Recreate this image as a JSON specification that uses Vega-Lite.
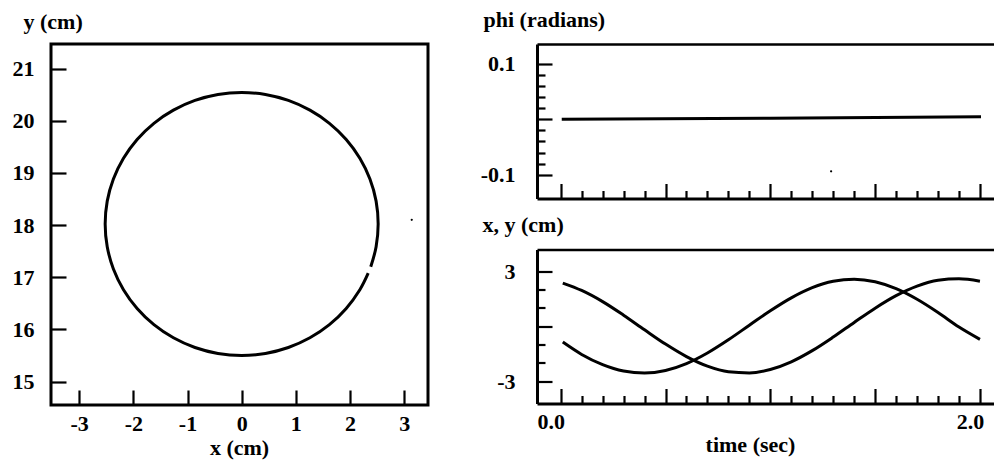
{
  "$schema": "https://vega.github.io/schema/vega-lite/v6.json",
  "autosize": {"type": "pad"},
  "padding": {"left": 10, "top": 8, "right": 0, "bottom": 0},
  "background": "white",
  "config": {
    "font": "Liberation Serif",
    "view": {"stroke": null},
    "axis": {
      "labelFont": "Liberation Serif",
      "labelFontWeight": "bold",
      "labelFontSize": 22,
      "labelColor": "black",
      "titleFont": "Liberation Serif",
      "titleFontWeight": "bold",
      "titleFontSize": 22,
      "titleColor": "black",
      "tickColor": "black",
      "tickWidth": 2.2,
      "domainColor": "black",
      "domainWidth": 3,
      "grid": false,
      "labelOverlap": false,
      "labelFlush": false,
      "labelBound": false
    }
  },
  "datasets": {
    "circle": [
      {"i": 0, "x": 2.383, "y": 17.2},
      {"i": 1, "x": 2.482, "y": 17.583},
      {"i": 2, "x": 2.52, "y": 18.02},
      {"i": 3, "x": 2.482, "y": 18.458},
      {"i": 4, "x": 2.368, "y": 18.882},
      {"i": 5, "x": 2.182, "y": 19.28},
      {"i": 6, "x": 1.93, "y": 19.64},
      {"i": 7, "x": 1.62, "y": 19.95},
      {"i": 8, "x": 1.26, "y": 20.202},
      {"i": 9, "x": 0.862, "y": 20.388},
      {"i": 10, "x": 0.438, "y": 20.502},
      {"i": 11, "x": 0.0, "y": 20.54},
      {"i": 12, "x": -0.438, "y": 20.502},
      {"i": 13, "x": -0.862, "y": 20.388},
      {"i": 14, "x": -1.26, "y": 20.202},
      {"i": 15, "x": -1.62, "y": 19.95},
      {"i": 16, "x": -1.93, "y": 19.64},
      {"i": 17, "x": -2.182, "y": 19.28},
      {"i": 18, "x": -2.368, "y": 18.882},
      {"i": 19, "x": -2.482, "y": 18.458},
      {"i": 20, "x": -2.52, "y": 18.02},
      {"i": 21, "x": -2.482, "y": 17.582},
      {"i": 22, "x": -2.368, "y": 17.158},
      {"i": 23, "x": -2.182, "y": 16.76},
      {"i": 24, "x": -1.93, "y": 16.4},
      {"i": 25, "x": -1.62, "y": 16.09},
      {"i": 26, "x": -1.26, "y": 15.838},
      {"i": 27, "x": -0.862, "y": 15.652},
      {"i": 28, "x": -0.438, "y": 15.538},
      {"i": 29, "x": 0.0, "y": 15.5},
      {"i": 30, "x": 0.438, "y": 15.538},
      {"i": 31, "x": 0.862, "y": 15.652},
      {"i": 32, "x": 1.26, "y": 15.838},
      {"i": 33, "x": 1.62, "y": 16.09},
      {"i": 34, "x": 1.93, "y": 16.4},
      {"i": 35, "x": 2.182, "y": 16.76},
      {"i": 36, "x": 2.336, "y": 17.076}
    ],
    "speckXY": [{"x": 3.14, "y": 18.1}],
    "phi": [
      {"t": 0.005, "phi": 0.0},
      {"t": 1.0, "phi": 0.002},
      {"t": 2.005, "phi": 0.0045}
    ],
    "speckPhi": [{"t": 1.29, "phi": -0.094}],
    "xSeries": [
      {"t": 0.01, "cm": -0.87}, {"t": 0.1, "cm": -1.544}, {"t": 0.2, "cm": -2.1},
      {"t": 0.3, "cm": -2.449}, {"t": 0.4, "cm": -2.56}, {"t": 0.5, "cm": -2.419},
      {"t": 0.6, "cm": -2.042}, {"t": 0.7, "cm": -1.465}, {"t": 0.8, "cm": -0.744},
      {"t": 0.9, "cm": 0.049}, {"t": 1.0, "cm": 0.838}, {"t": 1.1, "cm": 1.544},
      {"t": 1.2, "cm": 2.1}, {"t": 1.3, "cm": 2.449}, {"t": 1.4, "cm": 2.56},
      {"t": 1.5, "cm": 2.419}, {"t": 1.6, "cm": 2.042}, {"t": 1.7, "cm": 1.465},
      {"t": 1.8, "cm": 0.744}, {"t": 1.9, "cm": -0.049}, {"t": 2.0, "cm": -0.72}
    ],
    "ySeries": [
      {"t": 0.01, "cm": 2.35}, {"t": 0.1, "cm": 1.947}, {"t": 0.2, "cm": 1.338},
      {"t": 0.3, "cm": 0.598}, {"t": 0.4, "cm": -0.201}, {"t": 0.5, "cm": -0.98},
      {"t": 0.6, "cm": -1.662}, {"t": 0.7, "cm": -2.183}, {"t": 0.8, "cm": -2.489},
      {"t": 0.9, "cm": -2.552}, {"t": 1.0, "cm": -2.365}, {"t": 1.1, "cm": -1.947},
      {"t": 1.2, "cm": -1.338}, {"t": 1.3, "cm": -0.598}, {"t": 1.4, "cm": 0.201},
      {"t": 1.5, "cm": 0.98}, {"t": 1.6, "cm": 1.662}, {"t": 1.7, "cm": 2.183},
      {"t": 1.8, "cm": 2.5}, {"t": 1.9, "cm": 2.58}, {"t": 2.0, "cm": 2.45}
    ]
  },
  "bounds": "flush",
  "spacing": 109,
  "hconcat": [
    {
      "width": 377,
      "height": 361,
      "view": {"stroke": "black", "strokeWidth": 3},
      "layer": [
        {
          "data": {"name": "circle"},
          "mark": {"type": "line", "interpolate": "cardinal", "color": "black", "strokeWidth": 3},
          "encoding": {
            "x": {
              "field": "x", "type": "quantitative",
              "scale": {"domain": [-3.52, 3.44], "nice": false, "zero": false},
              "axis": {
                "values": [-3, -2.75, -2.5, -2.25, -2, -1.75, -1.5, -1.25, -1, -0.75, -0.5, -0.25, 0, 0.25, 0.5, 0.75, 1, 1.25, 1.5, 1.75, 2, 2.25, 2.5, 2.75, 3],
                "tickSize": {"expr": "(datum.value % 1 === 0 ? -15 : -8)"},
                "labelExpr": "datum.value % 1 === 0 ? '' + datum.value : ''",
                "labelPadding": 23,
                "domain": false,
                "title": "x (cm)",
                "titleAlign": "center",
                "titleBaseline": "alphabetic",
                "titleX": 188,
                "titleY": 49
              }
            },
            "y": {
              "field": "y", "type": "quantitative",
              "scale": {"domain": [14.55, 21.47], "nice": false, "zero": false},
              "axis": {
                "values": [15, 15.25, 15.5, 15.75, 16, 16.25, 16.5, 16.75, 17, 17.25, 17.5, 17.75, 18, 18.25, 18.5, 18.75, 19, 19.25, 19.5, 19.75, 20, 20.25, 20.5, 20.75, 21],
                "tickSize": {"expr": "(datum.value % 1 === 0 ? -15 : -8)"},
                "labelExpr": "datum.value % 1 === 0 ? '' + datum.value : ''",
                "labelPadding": 32,
                "domain": false,
                "title": "y (cm)",
                "titleAngle": 0,
                "titleAlign": "left",
                "titleBaseline": "alphabetic",
                "titleX": -28,
                "titleY": -16
              }
            },
            "order": {"field": "i", "type": "quantitative"}
          }
        },
        {
          "data": {"name": "speckXY"},
          "mark": {"type": "point", "filled": true, "color": "black", "size": 5, "opacity": 1},
          "encoding": {
            "x": {"field": "x", "type": "quantitative", "scale": {"domain": [-3.52, 3.44], "nice": false, "zero": false}},
            "y": {"field": "y", "type": "quantitative", "scale": {"domain": [14.55, 21.47], "nice": false, "zero": false}}
          }
        }
      ]
    },
    {
      "bounds": "flush",
      "spacing": 50.5,
      "vconcat": [
        {
          "width": 457,
          "height": 154.5,
          "resolve": {"axis": {"x": "independent"}},
          "layer": [
            {
              "data": {"name": "phi"},
              "mark": {"type": "line", "color": "black", "strokeWidth": 3},
              "encoding": {
                "x": {
                  "field": "t", "type": "quantitative",
                  "scale": {"domain": [-0.113, 2.067], "nice": false, "zero": false},
                  "axis": {
                    "orient": "bottom",
                    "values": [0, 0.1, 0.2, 0.3, 0.4, 0.5, 0.6, 0.7, 0.8, 0.9, 1, 1.1, 1.2, 1.3, 1.4, 1.5, 1.6, 1.7, 1.8, 1.9, 2],
                    "tickSize": {"expr": "(abs(datum.value * 2 - round(datum.value * 2)) < 0.000001 ? -15 : -8)"},
                    "labels": false,
                    "title": null
                  }
                },
                "y": {
                  "field": "phi", "type": "quantitative",
                  "scale": {"domain": [-0.143, 0.136], "nice": false, "zero": false},
                  "axis": {
                    "values": [-0.1, -0.08, -0.06, -0.04, -0.02, 0, 0.02, 0.04, 0.06, 0.08, 0.1],
                    "tickSize": {"expr": "((abs(datum.value) < 0.000001 || abs(abs(datum.value) - 0.1) < 0.000001) ? -15 : -8)"},
                    "labelExpr": "abs(abs(datum.value) - 0.1) < 0.000001 ? (datum.value < 0 ? '-0.1' : '0.1') : ''",
                    "labelPadding": 37,
                    "title": "phi (radians)",
                    "titleAngle": 0,
                    "titleAlign": "left",
                    "titleBaseline": "alphabetic",
                    "titleX": -54,
                    "titleY": -18
                  }
                }
              }
            },
            {
              "data": {"name": "speckPhi"},
              "mark": {"type": "point", "filled": true, "color": "black", "size": 5, "opacity": 1},
              "encoding": {
                "x": {
                  "field": "t", "type": "quantitative",
                  "scale": {"domain": [-0.113, 2.067], "nice": false, "zero": false},
                  "axis": {"orient": "top", "ticks": false, "labels": false, "title": null, "domainWidth": 2.5}
                },
                "y": {
                  "field": "phi", "type": "quantitative",
                  "scale": {"domain": [-0.143, 0.136], "nice": false, "zero": false},
                  "axis": {
                    "values": [-0.1, -0.08, -0.06, -0.04, -0.02, 0, 0.02, 0.04, 0.06, 0.08, 0.1],
                    "tickSize": {"expr": "((abs(datum.value) < 0.000001 || abs(abs(datum.value) - 0.1) < 0.000001) ? -15 : -8)"},
                    "labelExpr": "abs(abs(datum.value) - 0.1) < 0.000001 ? (datum.value < 0 ? '-0.1' : '0.1') : ''",
                    "labelPadding": 37,
                    "title": "phi (radians)",
                    "titleAngle": 0,
                    "titleAlign": "left",
                    "titleBaseline": "alphabetic",
                    "titleX": -54,
                    "titleY": -18
                  }
                }
              }
            }
          ]
        },
        {
          "width": 457,
          "height": 154,
          "resolve": {"axis": {"x": "independent"}},
          "layer": [
            {
              "data": {"name": "xSeries"},
              "mark": {"type": "line", "interpolate": "monotone", "color": "black", "strokeWidth": 3},
              "encoding": {
                "x": {
                  "field": "t", "type": "quantitative",
                  "scale": {"domain": [-0.113, 2.067], "nice": false, "zero": false},
                  "axis": {
                    "orient": "bottom",
                    "values": [0, 0.1, 0.2, 0.3, 0.4, 0.5, 0.6, 0.7, 0.8, 0.9, 1, 1.1, 1.2, 1.3, 1.4, 1.5, 1.6, 1.7, 1.8, 1.9, 2],
                    "tickSize": {"expr": "(abs(datum.value * 2 - round(datum.value * 2)) < 0.000001 ? -15 : -8)"},
                    "labelExpr": "datum.value === 0 ? '0.0' : (datum.value === 2 ? '2.0' : '')",
                    "labelPadding": 23,
                    "labelOffset": -10,
                    "title": "time (sec)",
                    "titleAlign": "center",
                    "titleBaseline": "alphabetic",
                    "titleX": 213,
                    "titleY": 48
                  }
                },
                "y": {
                  "field": "cm", "type": "quantitative",
                  "scale": {"domain": [-4.22, 4.18], "nice": false, "zero": false},
                  "axis": {
                    "values": [-3, -2, -1, 0, 1, 2, 3],
                    "tickSize": {"expr": "(datum.value % 3 === 0 ? -15 : -8)"},
                    "labelExpr": "abs(datum.value) === 3 ? '' + datum.value : ''",
                    "labelPadding": 37,
                    "title": "x, y (cm)",
                    "titleAngle": 0,
                    "titleAlign": "left",
                    "titleBaseline": "alphabetic",
                    "titleX": -55,
                    "titleY": -18
                  }
                }
              }
            },
            {
              "data": {"name": "ySeries"},
              "mark": {"type": "line", "interpolate": "monotone", "color": "black", "strokeWidth": 3},
              "encoding": {
                "x": {
                  "field": "t", "type": "quantitative",
                  "scale": {"domain": [-0.113, 2.067], "nice": false, "zero": false},
                  "axis": {"orient": "top", "ticks": false, "labels": false, "title": null, "domainWidth": 2.5}
                },
                "y": {
                  "field": "cm", "type": "quantitative",
                  "scale": {"domain": [-4.22, 4.18], "nice": false, "zero": false},
                  "axis": {
                    "values": [-3, -2, -1, 0, 1, 2, 3],
                    "tickSize": {"expr": "(datum.value % 3 === 0 ? -15 : -8)"},
                    "labelExpr": "abs(datum.value) === 3 ? '' + datum.value : ''",
                    "labelPadding": 37,
                    "title": "x, y (cm)",
                    "titleAngle": 0,
                    "titleAlign": "left",
                    "titleBaseline": "alphabetic",
                    "titleX": -55,
                    "titleY": -18
                  }
                }
              }
            }
          ]
        }
      ]
    }
  ]
}
